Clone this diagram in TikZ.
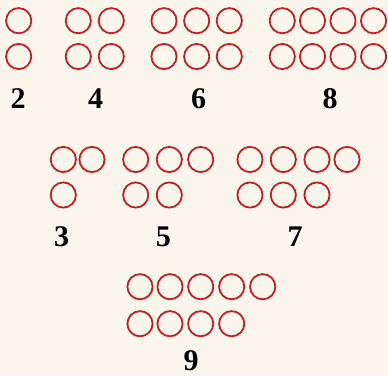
\documentclass[tikz,border=0pt]{standalone}
\usepackage{fontspec}
\setmainfont{Liberation Serif}
\usetikzlibrary{shapes.geometric}
\definecolor{paper}{HTML}{FAF6EC}
\definecolor{ringred}{HTML}{BE2029}
\begin{document}
\begin{tikzpicture}[
  x=1pt,y=-1pt,
  ring/.style={draw=ringred,line width=1.8pt,circle,inner sep=0pt,
    minimum size=25.2pt},
  num/.style={font=\fontsize{30}{31}\selectfont\bfseries,inner sep=0pt}
]
\fill[paper] (0,0) rectangle (388,376);
\useasboundingbox (0,0) rectangle (388,376);
% even numbers: two full rows
\node[ring] (two-a1) at (18.7,20.7) {};
\node[ring] (two-b1) at (18.7,56.5) {};
\node[num] (two) at (18,98.3) {2};
\foreach \i/\x in {1/78.3,2/111.3} {
  \node[ring] (four-a\i) at (\x,20.7) {};
  \node[ring] (four-b\i) at (\x,56.5) {};
}
\node[num] (four) at (95.7,98.3) {4};
\foreach \i/\x in {1/164,2/196.7,3/229.3} {
  \node[ring] (six-a\i) at (\x,20.7) {};
  \node[ring] (six-b\i) at (\x,56.5) {};
}
\node[num] (six) at (198.5,98.3) {6};
\foreach \i/\x in {1/282.3,2/312.5,3/343,4/373.6} {
  \node[ring] (eight-a\i) at (\x,20.7) {};
  \node[ring] (eight-b\i) at (\x,56.5) {};
}
\node[num] (eight) at (330,98.3) {8};
% odd numbers: one ring left over
\foreach \i/\x in {1/63.3,2/92}
  \node[ring] (three-a\i) at (\x,159.5) {};
\node[ring] (three-b1) at (63.3,195) {};
\node[num] (three) at (61.7,236.7) {3};
\foreach \i/\x in {1/135.7,2/169.3,3/200.7}
  \node[ring] (five-a\i) at (\x,159.5) {};
\foreach \i/\x in {1/135.7,2/169.3}
  \node[ring] (five-b\i) at (\x,195) {};
\node[num] (five) at (163.3,236.7) {5};
\foreach \i/\x in {1/250,2/283.3,3/317,4/347}
  \node[ring] (seven-a\i) at (\x,159.5) {};
\foreach \i/\x in {1/250,2/283.3,3/317}
  \node[ring] (seven-b\i) at (\x,195) {};
\node[num] (seven) at (295,236.7) {7};
\foreach \i/\x in {1/140,2/170,3/200.7,4/231.7,5/262.7}
  \node[ring] (nine-a\i) at (\x,286.7) {};
\foreach \i/\x in {1/140,2/170,3/200.7,4/231.7}
  \node[ring] (nine-b\i) at (\x,323.7) {};
\node[num] (nine) at (191,361) {9};
\end{tikzpicture}
\end{document}
